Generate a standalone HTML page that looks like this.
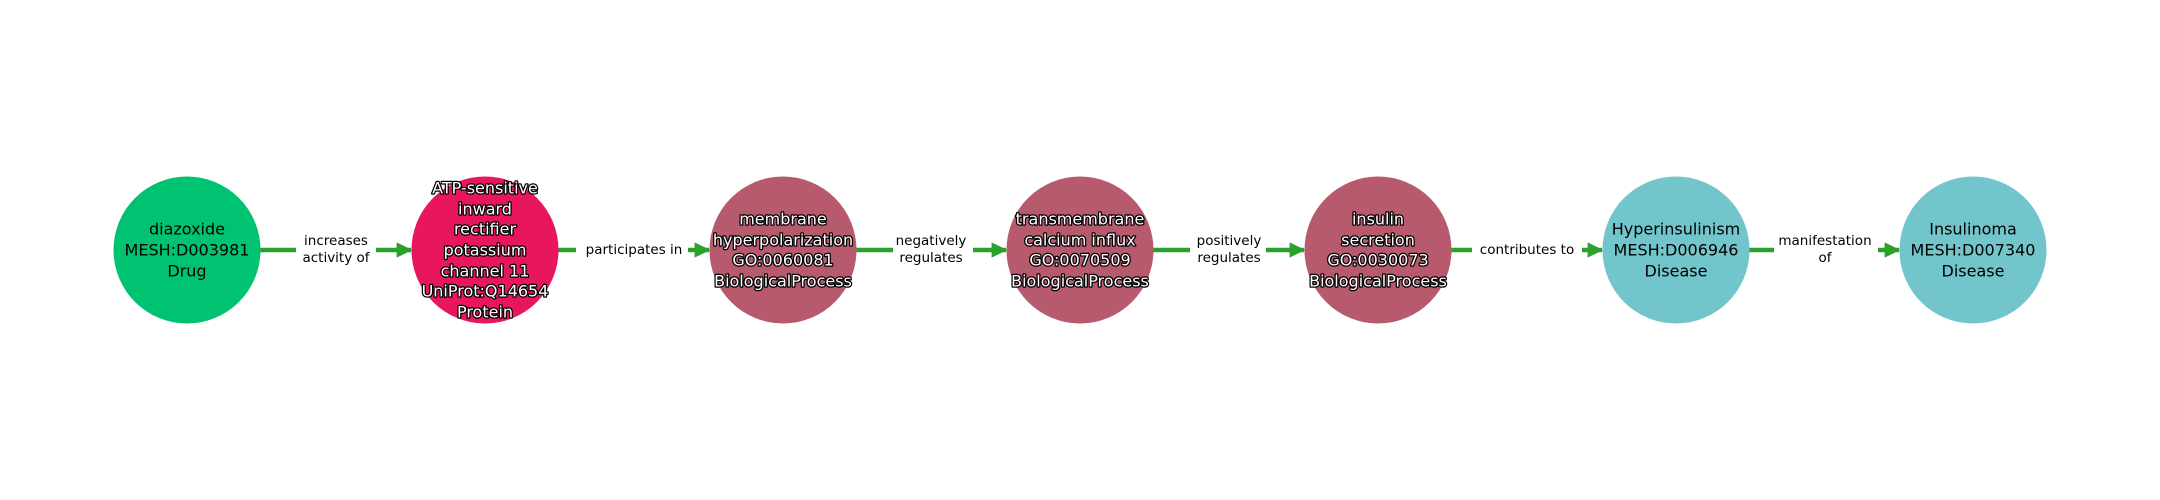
<!DOCTYPE html>
<html><head><meta charset="utf-8"><style>
html,body{margin:0;padding:0;background:#fff;width:2160px;height:500px;overflow:hidden}
text{font-family:"DejaVu Sans","Liberation Sans",sans-serif;text-anchor:middle;dominant-baseline:central}
.n{font-size:16px;fill:#000}
.o{font-size:16px;fill:#fff;stroke:#000;stroke-width:2.5px;paint-order:stroke;stroke-linejoin:round}
.e{font-size:13.5px;fill:#000}
</style></head><body>
<svg width="2160" height="500" xmlns="http://www.w3.org/2000/svg">
<defs><marker id="a" markerWidth="4" markerHeight="4" refX="3.2" refY="2" orient="auto" markerUnits="strokeWidth"><path d="M0,0.3 L3.5,2 L0,3.7 Z" fill="#2ca02c"/></marker></defs>
<g stroke="#2ca02c" stroke-width="4.5">
<line x1="260" y1="250" x2="411" y2="250" marker-end="url(#a)"/>
<line x1="558" y1="250" x2="709" y2="250" marker-end="url(#a)"/>
<line x1="856" y1="250" x2="1006" y2="250" marker-end="url(#a)"/>
<line x1="1153" y1="250" x2="1304" y2="250" marker-end="url(#a)"/>
<line x1="1451" y1="250" x2="1602" y2="250" marker-end="url(#a)"/>
<line x1="1749" y1="250" x2="1899" y2="250" marker-end="url(#a)"/>
</g>
<g fill="#fff">
<rect x="296" y="230" width="80" height="40"/>
<rect x="576" y="238" width="112" height="24"/>
<rect x="893" y="230" width="80" height="40"/>
<rect x="1190" y="230" width="76" height="40"/>
<rect x="1472" y="238" width="110" height="24"/>
<rect x="1774" y="230" width="104" height="40"/>
</g>
<text class="e" x="336" y="241">increases</text><text class="e" x="336" y="258">activity of</text>
<text class="e" x="634" y="250">participates in</text>
<text class="e" x="931" y="241">negatively</text><text class="e" x="931" y="258">regulates</text>
<text class="e" x="1229" y="241">positively</text><text class="e" x="1229" y="258">regulates</text>
<text class="e" x="1527" y="250">contributes to</text>
<text class="e" x="1825" y="241">manifestation</text><text class="e" x="1825" y="258">of</text>

<circle cx="187" cy="250" r="73.5" fill="#00c371"/>
<circle cx="485" cy="250" r="73.5" fill="#e8175d"/>
<circle cx="783" cy="250" r="73.5" fill="#b85a6e"/>
<circle cx="1080" cy="250" r="73.5" fill="#b85a6e"/>
<circle cx="1378" cy="250" r="73.5" fill="#b85a6e"/>
<circle cx="1676" cy="250" r="73.5" fill="#71c5cb"/>
<circle cx="1973" cy="250" r="73.5" fill="#71c5cb"/>

<text class="n" x="187" y="229">diazoxide</text><text class="n" x="187" y="250">MESH:D003981</text><text class="n" x="187" y="271">Drug</text>
<g class="o">
<text class="o" x="485" y="188">ATP-sensitive</text><text class="o" x="485" y="209">inward</text><text class="o" x="485" y="229">rectifier</text><text class="o" x="485" y="250">potassium</text><text class="o" x="485" y="271">channel 11</text><text class="o" x="485" y="291">UniProt:Q14654</text><text class="o" x="485" y="312">Protein</text>
<text class="o" x="783" y="219">membrane</text><text class="o" x="783" y="240">hyperpolarization</text><text class="o" x="783" y="260">GO:0060081</text><text class="o" x="783" y="281">BiologicalProcess</text>
<text class="o" x="1080" y="219">transmembrane</text><text class="o" x="1080" y="240">calcium influx</text><text class="o" x="1080" y="260">GO:0070509</text><text class="o" x="1080" y="281">BiologicalProcess</text>
<text class="o" x="1378" y="219">insulin</text><text class="o" x="1378" y="240">secretion</text><text class="o" x="1378" y="260">GO:0030073</text><text class="o" x="1378" y="281">BiologicalProcess</text>
</g>
<text class="n" x="1676" y="229">Hyperinsulinism</text><text class="n" x="1676" y="250">MESH:D006946</text><text class="n" x="1676" y="271">Disease</text>
<text class="n" x="1973" y="229">Insulinoma</text><text class="n" x="1973" y="250">MESH:D007340</text><text class="n" x="1973" y="271">Disease</text>
</svg>
</body></html>
